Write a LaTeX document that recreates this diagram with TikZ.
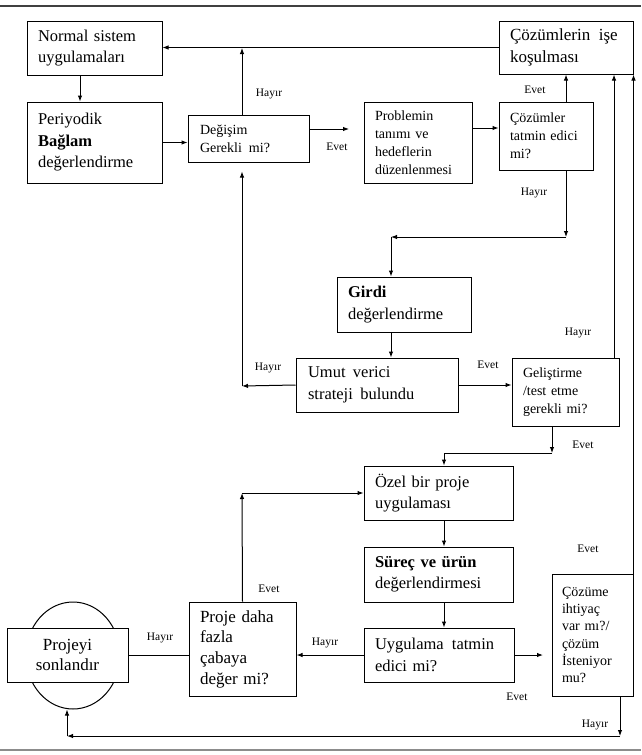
\documentclass[tikz,border=0pt]{standalone}
\usepackage{fontspec}
\setmainfont{Liberation Serif}
\usetikzlibrary{arrows.meta,shapes.geometric}
\begin{document}
\begin{tikzpicture}[x=1pt,y=-1pt,
  box/.style={draw, line width=1pt, align=left, inner xsep=11pt, inner ysep=0pt},
  big/.style={font=\fontsize{16.5}{21.5}\selectfont},
  small/.style={font=\fontsize{14}{18}\selectfont},
  lab/.style={font=\fontsize{11.5}{13}\selectfont, inner sep=0pt},
  conn/.style={line width=1pt},
  arr/.style={conn, -{Latex[length=6pt,width=4.5pt]}},
]
\useasboundingbox (0,0) rectangle (641,755);
% frame lines
\draw[line width=1.2pt, black!75] (0,6) -- (641,6);
\draw[line width=2pt, black!45] (0,750) -- (641,750);

% boxes
\node[box,big,minimum width=135pt,minimum height=54pt,text width=113pt] (normal) at (94.5,48) {Normal sistem\\uygulamaları};
\node[box,big,minimum width=135pt,minimum height=81pt,text width=113pt] (periyodik) at (94.5,142.5) {Periyodik\\\textbf{Bağlam}\\değerlendirme};
\node[box,small,minimum width=121pt,minimum height=47pt,text width=97pt,inner xsep=12pt] (degisim) at (248.5,138.5) {Değişim\\Gerekli\hspace{0.5em}mi?};
\node[box,small,minimum width=108pt,minimum height=81pt,text width=86pt] (problem) at (418,142.5) {Problemin\\tanımı ve\\hedeflerin\\düzenlenmesi};
\node[box,small,minimum width=94pt,minimum height=68pt,text width=72pt] (cozumler) at (546,136) {Çözümler\\tatmin edici\\mi?};
\node[box,font=\fontsize{17}{21.5}\selectfont,minimum width=134pt,minimum height=53pt,text width=112pt] (isekos) at (566,47.5) {Çözümlerin\hspace{0.5em}işe\\koşulması};
\node[box,big,minimum width=134pt,minimum height=55pt,text width=112pt] (girdi) at (404,304.5) {\textbf{Girdi}\\değerlendirme};
\node[box,big,minimum width=162pt,minimum height=54pt,text width=138pt,inner xsep=12pt] (umut) at (377,385) {Umut\hspace{0.45em}verici\\strateji\hspace{0.45em}bulundu};
\node[box,small,minimum width=107pt,minimum height=68pt,text width=85pt] (gelistirme) at (565.5,392) {Geliştirme\\/test etme\\gerekli mi?};
\node[box,big,minimum width=149pt,minimum height=54pt,text width=127pt] (ozel) at (438.5,493) {Özel bir proje\\uygulaması};
\node[box,big,minimum width=149pt,minimum height=55pt,text width=127pt] (surec) at (438.5,574.5) {\textbf{Süreç ve ürün}\\değerlendirmesi};
\node[box,big,minimum width=150pt,minimum height=54pt,text width=128pt,inner xsep=11pt] (uygulama) at (439,655) {Uygulama\hspace{0.5em}tatmin\\edici mi?};
\node[box,font=\fontsize{14}{17.3}\selectfont,minimum width=81pt,minimum height=122pt,text width=61pt,inner xsep=10pt] (cozume) at (592.5,635) {Çözüme\\ihtiyaç\\var mı?/\\çözüm\\İsteniyor\\mu?};
\node[box,font=\fontsize{17}{20.7}\selectfont,minimum width=107pt,minimum height=94pt,text width=85pt] (proje) at (242.5,649) {Proje daha\\fazla\\çabaya\\değer mi?};
\node[ellipse,draw,line width=1pt,minimum width=94pt,minimum height=107pt] (circ) at (73,655.5) {};
\node[box,fill=white,font=\fontsize{17}{20}\selectfont,align=center,minimum width=121pt,minimum height=54pt,text width=99pt] (projeyi) at (67.5,655) {Projeyi\\sonlandır};

% coordinates
\coordinate (evetend) at (349,129);
\coordinate (hayir1) at (566,237);
\coordinate (corner1) at (391,237);
\coordinate (c2) at (242,386);
\coordinate (c3) at (552,453);
\coordinate (c3b) at (444,453);
\coordinate (uyend) at (543,655);
\coordinate (c4) at (620,736);
\coordinate (c5) at (67,736);
\coordinate (c6) at (242,493);

% connectors
\draw[arr] (isekos.west) -- (isekos.west -| normal.east);
\draw[arr] ([xshift=-6.5pt]degisim.north) -- ([xshift=-6.5pt]degisim.north |- normal.east);
\draw[arr] ([xshift=-14.5pt]normal.south) -- ([xshift=-14.5pt]periyodik.north);
\draw[arr] (periyodik.east) -- (periyodik.east -| degisim.west);
\draw[arr] ([yshift=9.5pt]degisim.east) -- (evetend);
\draw[arr] ([yshift=14.5pt]problem.east) -- ([yshift=14.5pt]problem.east -| cozumler.west);
\draw[arr] ([xshift=20pt]cozumler.north) -- ([xshift=20pt]cozumler.north |- isekos.south);
\draw[arr] ([xshift=20pt]cozumler.south) -- (hayir1);
\draw[arr] (hayir1) -- (corner1);
\draw[arr] (corner1) -- (corner1 |- girdi.north);
\draw[arr] ([xshift=-13pt]girdi.south) -- ([xshift=-13pt]girdi.south |- umut.north);
\draw[arr] (umut.west) -- (c2);
\draw[arr] (c2) -- ([xshift=-6.5pt,yshift=-9pt]degisim.south);
\draw[arr] (umut.east) -- (umut.east -| gelistirme.west);
\draw[arr] ([xshift=48.5pt]gelistirme.north) -- ([xshift=48.5pt]gelistirme.north |- isekos.south);
\draw[arr] ([xshift=-13.5pt]gelistirme.south) -- (c3);
\draw[arr] (c3) -- (c3b) -- (c3b |- ozel.north);
\draw[arr] ([xshift=5.5pt]ozel.south) -- ([xshift=5.5pt]surec.north);
\draw[arr] ([xshift=5.5pt]surec.south) -- ([xshift=5pt]uygulama.north);
\draw[arr] (uygulama.east) -- (uyend);
\draw[arr] (cozume.north east) -- (cozume.north east |- isekos.south);
\draw[arr] ([xshift=27.5pt]cozume.south) -- (c4);
\draw[arr] (c4) -- (c5);
\draw[arr] (c5) -- (c5 |- circ.south);
\draw[arr] (uygulama.west) -- (uygulama.west -| proje.east);
\draw[arr] (proje.north) -- (c6);
\draw[arr] (c6) -- (c6 -| ozel.west);
\draw[conn] (projeyi.east -| proje.west) -- (projeyi.east);

% labels
\node[lab] (l1) at (269,94) {Hayır};
\node[lab] (l2) at (337,147) {Evet};
\node[lab] (l3) at (535,90) {Evet};
\node[lab] (l4) at (534,193) {Hayır};
\node[lab] (l5) at (268,368) {Hayır};
\node[lab] (l6) at (488,365) {Evet};
\node[lab] (l7) at (578,333) {Hayır};
\node[lab] (l8) at (583,445) {Evet};
\node[lab] (l9) at (588,549) {Evet};
\node[lab] (l10) at (517,697) {Evet};
\node[lab] (l11) at (595,725) {Hayır};
\node[lab] (l12) at (325,643) {Hayır};
\node[lab] (l13) at (269,589) {Evet};
\node[lab] (l14) at (160,638) {Hayır};
\end{tikzpicture}
\end{document}
